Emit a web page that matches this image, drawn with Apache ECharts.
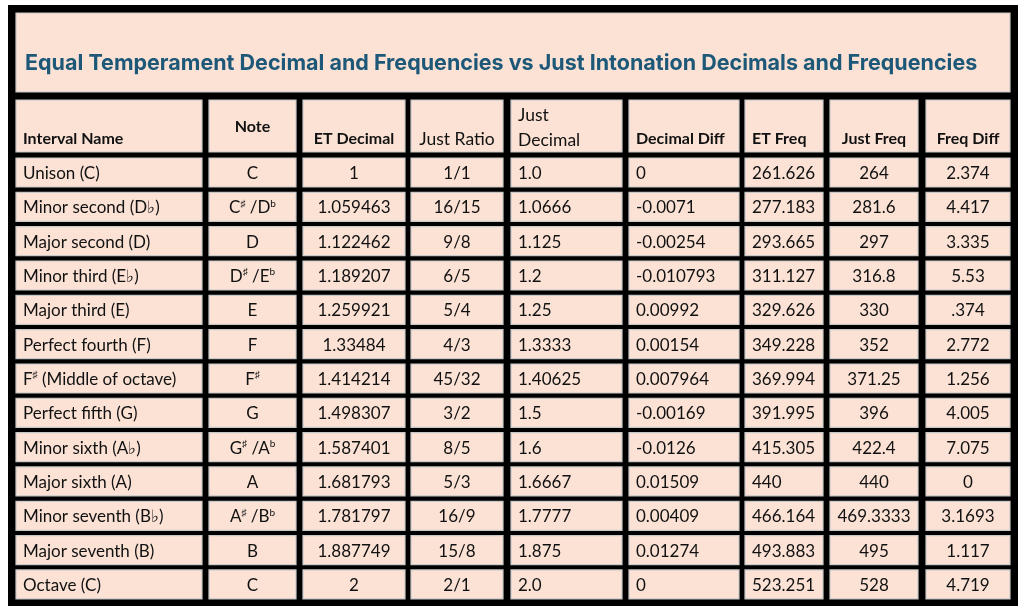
<!DOCTYPE html>
<html><head><meta charset="utf-8">
<script src="https://cdn.jsdelivr.net/npm/echarts@6/dist/echarts.min.js"></script>
<style>html,body{margin:0;padding:0;background:#fff}#main{width:1024px;height:609px}</style>
</head><body><div id="main"></div>
<script>
var title = 'Equal Temperament Decimal and Frequencies vs Just Intonation Decimals and Frequencies';
var headers = ['Interval Name', 'Note', 'ET Decimal', 'Just Ratio', 'Just\nDecimal', 'Decimal Diff', 'ET Freq', 'Just Freq', 'Freq Diff'];
var intervalNames = ['Unison (C)', 'Minor second (D♭)', 'Major second (D)', 'Minor third (E♭)', 'Major third (E)', 'Perfect fourth (F)',
	'F{s|♯} (Middle of octave)', 'Perfect fifth (G)', 'Minor sixth (A♭)', 'Major sixth (A)', 'Minor seventh (B♭)', 'Major seventh (B)', 'Octave (C)'];
var notes = ['C', 'C{s|♯} /D{s|b}', 'D', 'D{s|♯} /E{s|b}', 'E', 'F', 'F{s|♯}', 'G', 'G{s|♯} /A{s|b}', 'A', 'A{s|♯} /B{s|b}', 'B', 'C'];
var etDecimal = ['1', '1.059463', '1.122462', '1.189207', '1.259921', '1.33484', '1.414214', '1.498307', '1.587401', '1.681793', '1.781797', '1.887749', '2'];
var justRatio = ['1/1', '16/15', '9/8', '6/5', '5/4', '4/3', '45/32', '3/2', '8/5', '5/3', '16/9', '15/8', '2/1'];
var justDecimal = ['1.0', '1.0666', '1.125', '1.2', '1.25', '1.3333', '1.40625', '1.5', '1.6', '1.6667', '1.7777', '1.875', '2.0'];
var decimalDiff = ['0', '-0.0071', '-0.00254', '-0.010793', '0.00992', '0.00154', '0.007964', '-0.00169', '-0.0126', '0.01509', '0.00409', '0.01274', '0'];
var etFreq = ['261.626', '277.183', '293.665', '311.127', '329.626', '349.228', '369.994', '391.995', '415.305', '440', '466.164', '493.883', '523.251'];
var justFreq = ['264', '281.6', '297', '316.8', '330', '352', '371.25', '396', '422.4', '440', '469.3333', '495', '528'];
var freqDiff = ['2.374', '4.417', '3.335', '5.53', '.374', '2.772', '1.256', '4.005', '7.075', '0', '3.1693', '1.117', '4.719'];

// layout (pixel units on hidden axes)
var colEdges = [[16, 202], [209, 296], [303, 405], [411, 503], [511, 622], [629, 739], [745, 823], [830, 918], [926, 1010]];
var colAlign = ['left', 'center', 'center', 'center', 'left', 'left', 'left', 'center', 'center'];
var headBold = [true, true, true, false, false, true, true, true, true];
var rowTop0 = 158, rowStep = 34.33, rowH = 29;

var columns = [intervalNames, notes, etDecimal, justRatio, justDecimal, decimalDiff, etFreq, justFreq, freqDiff];
var cells = [];
cells.push([16, 1010, 13, 92, title, 'title']);
headers.forEach(function (h, c) {
	cells.push([colEdges[c][0], colEdges[c][1], 100, 152, h, 'head', c]);
});
columns.forEach(function (col, c) {
	col.forEach(function (v, r) {
		var t = rowTop0 + r * rowStep;
		cells.push([colEdges[c][0], colEdges[c][1], t, t + rowH, v, 'body', c]);
	});
});

var font = 'Lato, "Open Sans", sans-serif';
function renderCell(params, api) {
	var d = cells[params.dataIndex];
	var p0 = api.coord([d[0], d[2]]), p1 = api.coord([d[1], d[3]]);
	var x = p0[0], y = p0[1], w = p1[0] - p0[0], h = p1[1] - p0[1];
	var kind = d[5], c = d[6];
	var tx, ty, align = 'left';
	var style = {fill: '#111', font: '17px ' + font};
	if (kind === 'title') {
		tx = x + 9; ty = y + h * 0.64;
		style = {fill: '#1d5878', font: 'bold 21.5px Inter, sans-serif'};
	} else {
		align = colAlign[c];
		tx = align === 'left' ? x + 7 : x + w / 2;
		ty = y + h / 2 + 1;
		if (kind === 'head') {
			style = {fill: '#111', font: (headBold[c] ? 'bold 16px ' : '17.5px ') + font};
			if (c === 1) { ty = y + 27; }
			else if (c === 4) { ty = y + 28; style.lineHeight = 25; }
			else { ty = y + h - 13; }
		}
	}
	return {
		type: 'group',
		children: [{
			type: 'rect',
			shape: {x: x, y: y, width: w, height: h},
			style: {fill: '#fbe2d5', stroke: '#c8c8c8', lineWidth: 1.2}
		}, {
			type: 'text',
			style: Object.assign({
				text: d[4], x: tx, y: ty, align: align, verticalAlign: 'middle',
				rich: {s: {fontSize: 10, verticalAlign: 'top', padding: [0, 0, 9, 0], fontFamily: font}}
			}, style)
		}]
	};
}

var chart = echarts.init(document.getElementById('main'));
chart.setOption({
	animation: false,
	backgroundColor: '#ffffff',
	graphic: [{type: 'rect', shape: {x: 8, y: 5, width: 1010, height: 601}, style: {fill: '#000'}, z: -10}],
	grid: {left: 0, right: 0, top: 0, bottom: 0},
	xAxis: {type: 'value', min: 0, max: 1024, show: false},
	yAxis: {type: 'value', min: 0, max: 609, inverse: true, show: false},
	series: [{
		type: 'custom',
		renderItem: renderCell,
		data: cells.map(function (d) { return [d[0], d[2]]; })
	}]
});
</script></body></html>
